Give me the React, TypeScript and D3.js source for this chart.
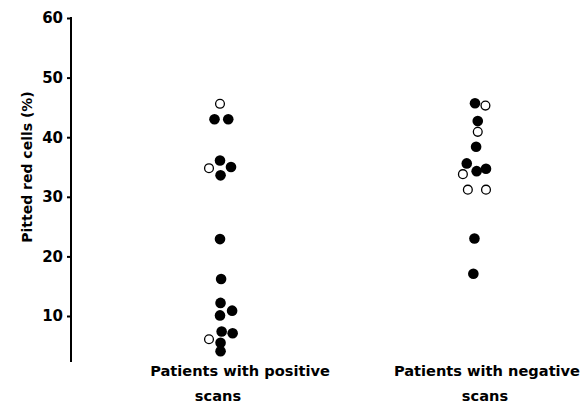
import React, { useRef, useEffect } from "react";
import * as d3 from "d3";

// groups on the x axis
const groups = ["positive", "negative"];
const groupLabels: Record<string, string[]> = {
  positive: ["Patients with positive", "scans"],
  negative: ["Patients with negative", "scans"],
};

// pitted red cells (%) per patient; jitter = sideways offset in dot widths; open = hollow marker
const positiveValues = [45.6, 43.0, 43.0, 36.1, 34.8, 35.0, 33.6, 22.9, 16.2, 12.2, 10.9, 10.1, 7.4, 7.1, 6.1, 5.5, 4.1];
const positiveJitter = [0, -0.5, 0.75, 0, -1, 1, 0.05, 0, 0.1, 0.05, 1.1, 0, 0.15, 1.15, -1, 0.05, 0.05];
const positiveOpen = [true, false, false, false, true, false, false, false, false, false, false, false, false, false, true, false, false];

const negativeValues = [45.7, 45.3, 42.7, 40.9, 38.4, 35.6, 33.8, 34.3, 34.7, 31.2, 31.2, 23.0, 17.1];
const negativeJitter = [0, 0.95, 0.25, 0.25, 0.1, -0.75, -1.1, 0.15, 1.0, -0.65, 1.0, -0.05, -0.15];
const negativeOpen = [false, true, false, true, false, false, true, false, false, true, true, false, false];

const yTicks = [10, 20, 30, 40, 50, 60];

type Dot = { group: string; value: number; jitter: number; open: boolean };

const dots: Dot[] = [
  ...positiveValues.map((v, i) => ({ group: "positive", value: v, jitter: positiveJitter[i], open: positiveOpen[i] })),
  ...negativeValues.map((v, i) => ({ group: "negative", value: v, jitter: negativeJitter[i], open: negativeOpen[i] })),
];

const FONT = "'DejaVu Sans', sans-serif";

const DotChart: React.FC = () => {
  const ref = useRef<SVGSVGElement | null>(null);

  useEffect(() => {
    if (!ref.current) return;
    document.body.style.margin = "0";
    const width = 586;
    const height = 408;

    const svg = d3.select(ref.current);
    svg.selectAll("*").remove();

    const y = d3.scaleLinear().domain([0, 60]).range([375.6, 18]);
    const x = d3.scalePoint<string>().domain(groups).range([220, 475]);
    const jitter = d3.scaleLinear().domain([-1, 1]).range([-11, 11]);
    const axisX = 71;

    // y axis
    const axis = svg
      .append("g")
      .attr("transform", `translate(${axisX},0)`)
      .call(d3.axisLeft(y).tickValues(yTicks).tickSize(4).tickPadding(4).tickFormat(d3.format("d")));
    axis.select(".domain").remove();
    axis.selectAll("line").attr("stroke", "#000").attr("stroke-width", 2);
    axis
      .selectAll("text")
      .attr("fill", "#000")
      .style("font-family", FONT)
      .style("font-weight", "700")
      .style("font-size", "15px");

    svg
      .append("line")
      .attr("x1", axisX)
      .attr("x2", axisX)
      .attr("y1", y(60) - 1)
      .attr("y2", y(2.3))
      .attr("stroke", "#000")
      .attr("stroke-width", 2);

    // y axis title
    svg
      .append("text")
      .attr("transform", `translate(27,${167}) rotate(-90)`)
      .attr("text-anchor", "middle")
      .attr("dominant-baseline", "central")
      .style("font-family", FONT)
      .style("font-weight", "700")
      .style("font-size", "14px")
      .attr("fill", "#000")
      .text("Pitted red cells  (%)");

    // dots
    svg
      .append("g")
      .selectAll("circle")
      .data(dots)
      .join("circle")
      .attr("cx", (d) => x(d.group)! + jitter(d.jitter))
      .attr("cy", (d) => y(d.value))
      .attr("r", (d) => (d.open ? 4.4 : 5.3))
      .attr("fill", (d) => (d.open ? "#fff" : "#000"))
      .attr("stroke", "#000")
      .attr("stroke-width", (d) => (d.open ? 1.3 : 0));

    // group labels (second line sits a little off-centre, as in the print)
    const lineOffsets = [
      { dx: { positive: 20, negative: 12 }, y: 376 },
      { dx: { positive: -2, negative: 10 }, y: 401 },
    ];
    groups.forEach((g) => {
      groupLabels[g].forEach((t, i) => {
        svg
          .append("text")
          .attr("x", x(g)! + (lineOffsets[i].dx as Record<string, number>)[g])
          .attr("y", lineOffsets[i].y)
          .attr("text-anchor", "middle")
          .style("font-family", FONT)
          .style("font-weight", "700")
          .style("font-size", "14.6px")
          .attr("fill", "#000")
          .text(t);
      });
    });

    svg.attr("width", width).attr("height", height);
  }, []);

  return <svg ref={ref} width={586} height={408} style={{ display: "block", background: "#fff" }} />;
};

export default function App() {
  return <DotChart />;
}
